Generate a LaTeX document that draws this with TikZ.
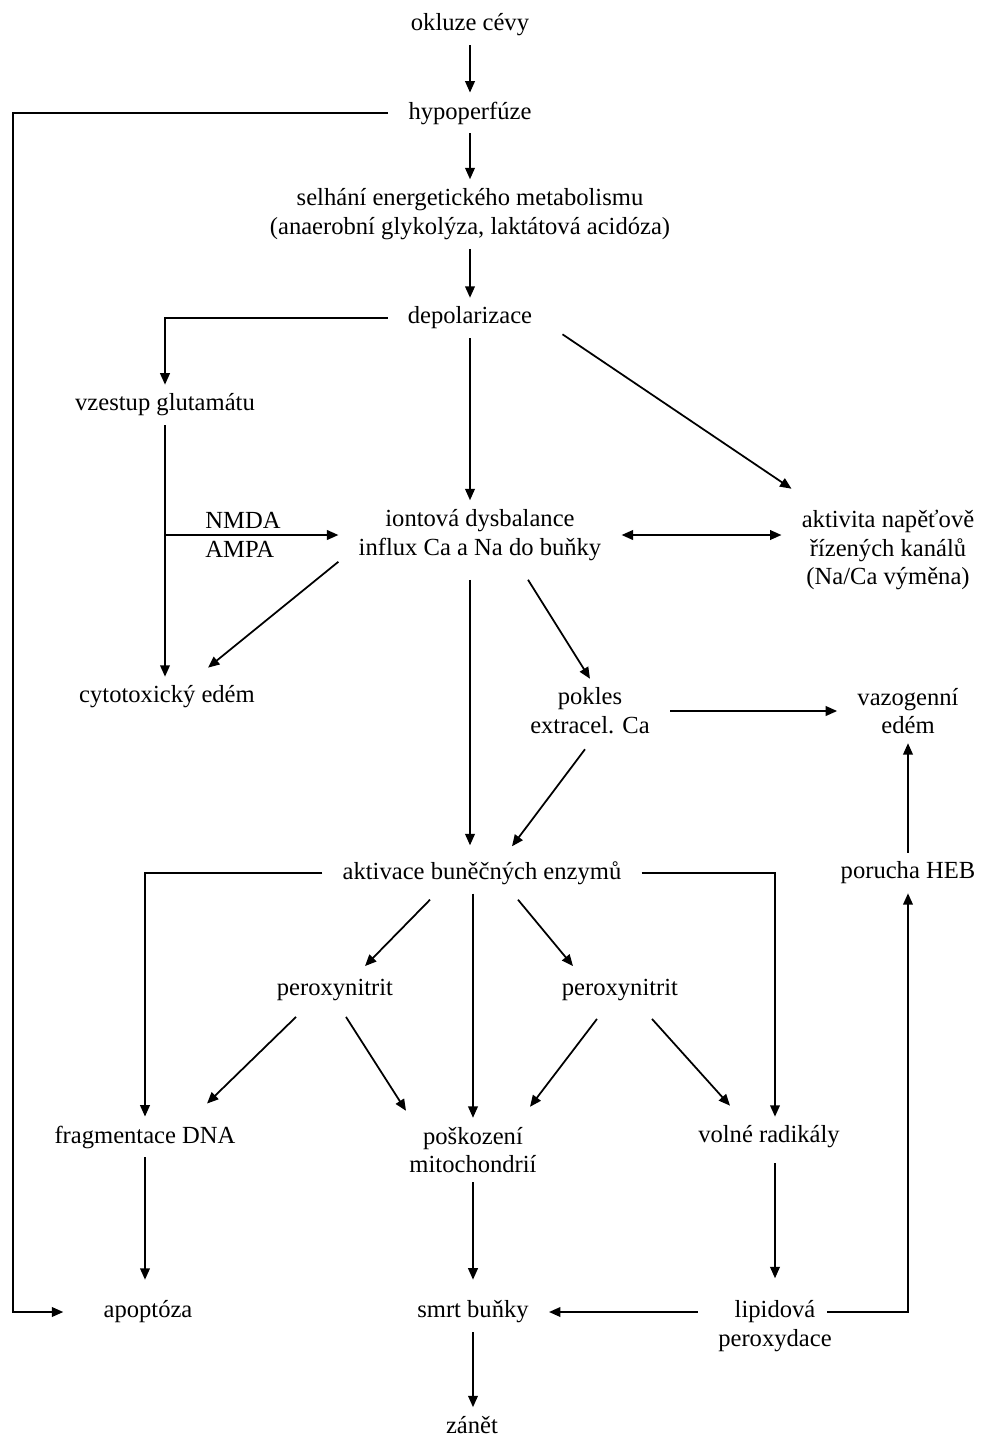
\documentclass[tikz,border=0pt]{standalone}
\usepackage{fontspec}
\setmainfont{Liberation Serif}
\usetikzlibrary{arrows.meta,calc}

\begin{document}
\begin{tikzpicture}[>={Triangle[length=6.5pt,width=5.5pt]}, x=0.02cm, y=-0.02cm,
    stav/.style={align=center, inner xsep=0.4cm, inner ysep=5pt, font=\fontsize{14pt}{16.4pt}\selectfont},
    sip/.style={->, line width=1pt}]
    \useasboundingbox (0,0) rectangle (983,1438);

    % stavy
    \node[stav] (okl) at (470,25) {okluze cévy};
    \node[stav] (hyp) at (470,113) {hypoperfúze};
    \node[stav] (sel) at (470,214) {selhání energetického metabolismu\\(anaerobní glykolýza, laktátová acidóza)};
    \node[stav] (dep) at (470,318) {depolarizace};
    \node[stav] (vzg) at (165,405) {vzestup glutamátu};
    \node[stav] (ion) at (480,535) {iontová dysbalance\\influx Ca a Na do buňky};
    \node[stav] (akt) at (888,550) {aktivita napěťově\\řízených kanálů\\(Na/Ca výměna)};
    \node[stav, align=left, inner xsep=0pt] (nmda) at (243,535) {NMDA\\AMPA};
    \node[stav] (cyt) at (167,697) {cytotoxický edém};
    \node[stav] (pok) at (590,711) {pokles\\extracel. Ca};
    \node[stav] (vaz) at (908,711) {vazogenní\\edém};
    \node[stav] (enz) at (482,873) {aktivace buněčných enzymů};
    \node[stav] (heb) at (908,873) {porucha HEB};
    \node[stav] (per1) at (335,990) {peroxynitrit};
    \node[stav] (per2) at (620,990) {peroxynitrit};
    \node[stav] (dna) at (145,1137) {fragmentace DNA};
    \node[stav] (mit) at (473,1150) {poškození\\mitochondrií};
    \node[stav] (rad) at (769,1137) {volné radikály};
    \node[stav] (apo) at (148,1312) {apoptóza};
    \node[stav] (smr) at (473,1312) {smrt buňky};
    \node[stav] (lip) at (775,1326) {lipidová\\peroxydace};
    \node[stav] (zan) at (472,1425) {zánět};

    \coordinate (lft) at (13,0);
    \coordinate (nmdab) at (vzg.south |- ion.west);

    % hlavni osa
    \draw[sip] (okl) -- (hyp);
    \draw[sip] (hyp) -- (sel);
    \draw[sip] (sel) -- (dep);
    \draw[sip] (hyp.west) -- (hyp.west -| lft) -- (apo.west -| lft) -- ([xshift=-0.4cm]apo.west);
    \draw[sip] (dep.west) -| (vzg.north);
    \draw[sip] (dep.south) -- (dep.south |- ion.north);
    \draw[sip] ($(dep.south east)+(10,-4)$) -- ($(akt.north west)+(10,-12)$);
    \draw[sip] (vzg.south) -- (vzg.south |- cyt.north);
    \draw[sip] (nmdab) -- (ion.west);
    \draw[sip, <->] (ion.east) -- (ion.east -| akt.west);
    \draw[sip] ($(ion.south west)+(0,-8)$) -- ($(cyt.north)+(41,-9)$);
    \draw[sip] ($(ion.south)+(-10,10)$) -- ($(enz.north)+(-12,-7)$);
    \draw[sip] ($(ion.south)+(48,10)$) -- (pok.north);
    \draw[sip] (pok.east) -- (pok.east -| vaz.west);
    \draw[sip] ($(pok.south)+(-5,6)$) -- ($(enz.north)+(30,-6)$);
    \draw[sip] (heb.north) -- (vaz.south);

    % enzymy
    \draw[sip] (enz.west) -| (dna.north);
    \draw[sip] (enz.east) -| ($(rad.north)+(6,0)$);
    \draw[sip] ($(enz.south)+(-52,6)$) -- ($(per1.north)+(30,-4)$);
    \draw[sip] ($(enz.south)+(36,6)$) -- ($(per2.north)+(-47,-4)$);
    \draw[sip] (mit.north |- enz.south) -- (mit.north);
    \draw[sip] ($(per1.south)+(-39,7)$) -- ($(dna.north)+(62,-13)$);
    \draw[sip] ($(per1.south)+(11,7)$) -- ($(mit.north)+(-67,-7)$);
    \draw[sip] ($(per2.south)+(-23,9)$) -- ($(mit.north)+(57,-11)$);
    \draw[sip] ($(per2.south)+(32,9)$) -- ($(rad.north)+(-39,-11)$);

    % dolni cast
    \draw[sip] (dna.south) -- ($(dna.south |- apo.north)+(0,-12)$);
    \draw[sip] (mit.south) -- ($(mit.south |- smr.north)+(0,-12)$);
    \draw[sip] ($(lip.north |- rad.south)+(0,6)$) -- ($(lip.north)+(0,-13)$);
    \draw[sip] (smr.east -| lip.west) -- (smr.east);
    \draw[sip] ($(lip.east |- smr.east)+(-25,0)$) -| (heb.south);
    \draw[sip] (smr.south) -- (smr.south |- zan.north);
\end{tikzpicture}
\end{document}
